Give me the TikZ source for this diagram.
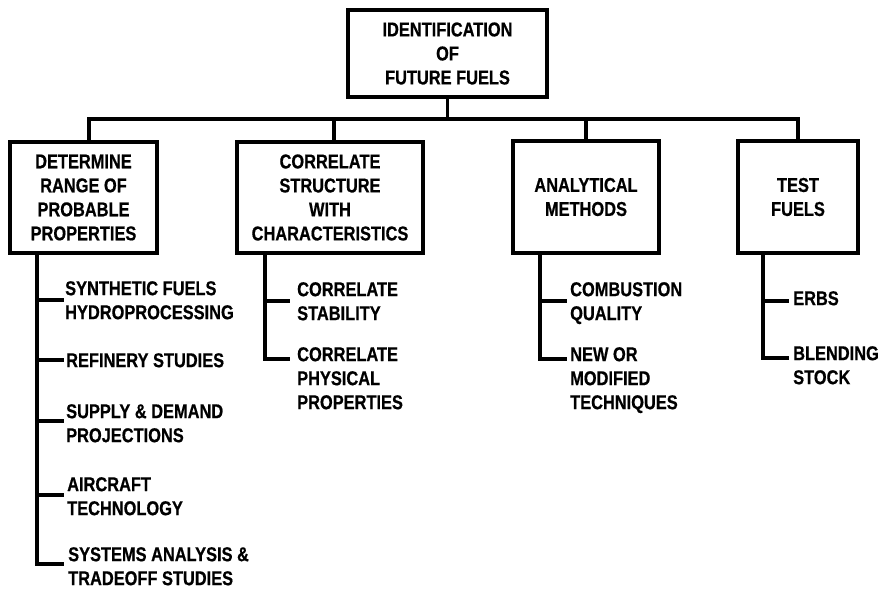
\documentclass[tikz,border=0pt]{standalone}
\usepackage{fontspec}
\newfontfamily\lblfont{Liberation Sans Bold}[FakeStretch=0.82,FakeBold=0.6]
\begin{document}
\begin{tikzpicture}[x=1pt,y=-1pt,
  every node/.style={font=\lblfont\fontsize{20}{24}\selectfont},
  box/.style={draw,line width=3.2pt,inner sep=0pt,align=center},
  item/.style={anchor=north west,inner sep=0pt,align=left},
  conn/.style={line width=3.2pt,line cap=rect}]
\useasboundingbox (0,0) rectangle (883,589);
% main boxes
\node[box,minimum width=199pt,minimum height=87pt] (top) at (447.5,53.5) {IDENTIFICATION\\OF\\FUTURE FUELS};
\node[box,minimum width=147pt,minimum height=111pt] (b1) at (83.5,197.5) {DETERMINE\\RANGE OF\\PROBABLE\\PROPERTIES};
\node[box,minimum width=186pt,minimum height=111pt] (b2) at (330,197.5) {CORRELATE\\STRUCTURE\\WITH\\CHARACTERISTICS};
\node[box,minimum width=146pt,minimum height=112pt] (b3) at (586,197) {ANALYTICAL\\METHODS};
\node[box,minimum width=120pt,minimum height=112pt] (b4) at (798,197) {TEST\\FUELS};
% bus
\coordinate (busL) at (89,119);
\coordinate (busR) at (798,119);
\coordinate (j2) at (334,119);
\coordinate (j3) at (586,119);
\draw[conn] (top.south) -- (top.south |- busL);
\draw[conn] (busL) -- (busR);
\draw[conn] (busL) -- (busL |- b1.north);
\draw[conn] (j2) -- (j2 |- b2.north);
\draw[conn] (j3) -- (j3 |- b3.north);
\draw[conn] (busR) -- (busR |- b4.north);
% subtree 1
\coordinate (v1) at (37,0);
\coordinate (e11) at (62,300);
\coordinate (e12) at (62,360);
\coordinate (e13) at (62,421);
\coordinate (e14) at (62,495);
\coordinate (e15) at (62,564);
\draw[conn] (b1.south -| v1) |- (e15);
\draw[conn] (b1.south -| v1) |- (e11);
\draw[conn] (b1.south -| v1) |- (e12);
\draw[conn] (b1.south -| v1) |- (e13);
\draw[conn] (b1.south -| v1) |- (e14);
\node[item] (t11) at (65,281) {SYNTHETIC FUELS\\HYDROPROCESSING};
\node[item] (t12) at (66,353) {REFINERY STUDIES};
\node[item] (t13) at (66,404) {SUPPLY \& DEMAND\\PROJECTIONS};
\node[item] (t14) at (67,477) {AIRCRAFT\\TECHNOLOGY};
\node[item] (t15) at (68,547) {SYSTEMS ANALYSIS \&\\TRADEOFF STUDIES};
% subtree 2
\coordinate (v2) at (265,0);
\coordinate (e21) at (288,301);
\coordinate (e22) at (288,359);
\draw[conn] (b2.south -| v2) |- (e22);
\draw[conn] (b2.south -| v2) |- (e21);
\node[item] (t21) at (297,282) {CORRELATE\\STABILITY};
\node[item] (t22) at (297,347) {CORRELATE\\PHYSICAL\\PROPERTIES};
% subtree 3
\coordinate (v3) at (540,0);
\coordinate (e31) at (565,301);
\coordinate (e32) at (565,359);
\draw[conn] (b3.south -| v3) |- (e32);
\draw[conn] (b3.south -| v3) |- (e31);
\node[item] (t31) at (570,282) {COMBUSTION\\QUALITY};
\node[item] (t32) at (570,347) {NEW OR\\MODIFIED\\TECHNIQUES};
% subtree 4
\coordinate (v4) at (763,0);
\coordinate (e41) at (787,301);
\coordinate (e42) at (787,358);
\draw[conn] (b4.south -| v4) |- (e42);
\draw[conn] (b4.south -| v4) |- (e41);
\node[item] (t41) at (793,291) {ERBS};
\node[item] (t42) at (793,346) {BLENDING\\STOCK};
\end{tikzpicture}
\end{document}
